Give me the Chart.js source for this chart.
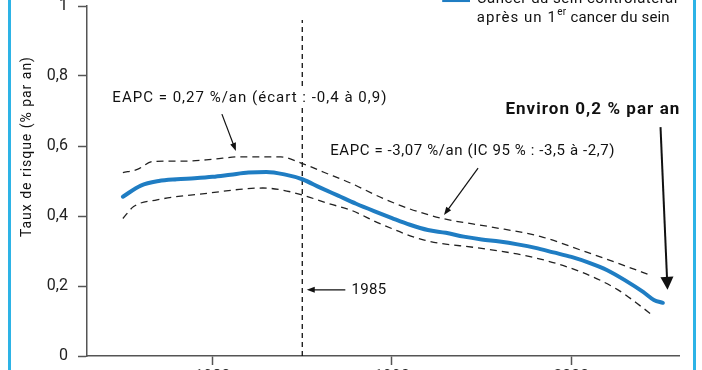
<!DOCTYPE html>
<html><head><meta charset="utf-8">
<script src="https://cdn.jsdelivr.net/npm/chart.js@4.4.1/dist/chart.umd.min.js"></script>
<style>
html,body{margin:0;padding:0;background:#fff;overflow:hidden}
#wrap{position:relative;width:702px;height:370px}
#frame{position:absolute;left:8px;top:0;width:682px;height:370px;border-left:3px solid #2db3e6;border-right:3px solid #2db3e6;pointer-events:none}
canvas{position:absolute;left:0;top:0}
</style></head><body>
<div id="wrap"><canvas id="c" width="702" height="370"></canvas><div id="frame"></div></div>
<script>
// ---- data ----
const riskYears  = [1975.0,1976.0,1977.0,1978.0,1979.0,1980.0,1981.0,1982.0,1983.0,1984.0,1985.0,1986.0,1987.0,1988.0,1989.0,1990.0,1991.0,1992.0,1993.0,1994.0,1995.0,1996.0,1997.0,1998.0,1999.0,2000.0,2001.0,2002.0,2003.0,2004.0,2004.6,2005.1];
const riskValues = [0.455,0.487,0.500,0.505,0.508,0.512,0.518,0.524,0.526,0.519,0.505,0.481,0.458,0.435,0.414,0.394,0.375,0.360,0.352,0.341,0.333,0.327,0.319,0.309,0.296,0.283,0.266,0.245,0.216,0.183,0.160,0.152];
const upperYears  = [1975.0,1975.8,1976.7,1978.5,1980.0,1981.5,1983.8,1984.9,1986.2,1987.7,1989.3,1991.0,1992.9,1995.5,1998.3,2000.5,2002.6,2004.5];
const upperValues = [0.524,0.533,0.556,0.557,0.562,0.569,0.569,0.552,0.525,0.494,0.455,0.420,0.392,0.369,0.341,0.303,0.265,0.229];
const lowerYears  = [1975.0,1975.6,1976.9,1979.7,1982.8,1983.9,1985.0,1986.5,1987.7,1989.3,1991.8,1994.9,1997.7,2000.5,2002.6,2003.9,2004.5];
const lowerValues = [0.393,0.427,0.446,0.465,0.480,0.474,0.460,0.435,0.417,0.379,0.331,0.308,0.284,0.241,0.189,0.141,0.117];
const markerYears  = [1985, 1985];
const markerValues = [0, 0.96];
const xTicks = [1980, 1990, 2000];
const xTickLabels = ['1980', '1990', '2000'];
const yTicks = [0, 0.2, 0.4, 0.6, 0.8, 1];
const yTickLabels = ['0', '0,2', '0,4', '0,6', '0,8', '1'];
const yTitle = 'Taux de risque (% par an)';
const legendLine1 = 'Cancer du sein controlatéral';
const legendLine2 = ['après un 1', 'er', ' cancer du sein'];
const note1 = 'EAPC = 0,27 %/an (écart : -0,4 à 0,9)';
const note2 = 'EAPC = -3,07 %/an (IC 95 % : -3,5 à -2,7)';
const note3 = 'Environ 0,2 % par an';
const note4 = '1985';

const FONT = 'Roboto, "DejaVu Sans", sans-serif';
const BLUE = '#1f7dc3';
const toPts = (xs, ys) => xs.map((x, i) => ({x, y: ys[i]}));

function arrow(ctx, x1, y1, x2, y2, len, wid) {
  const a = Math.atan2(y2 - y1, x2 - x1);
  ctx.beginPath(); ctx.moveTo(x1, y1);
  ctx.lineTo(x2 - Math.cos(a) * len * 0.8, y2 - Math.sin(a) * len * 0.8); ctx.stroke();
  ctx.beginPath(); ctx.moveTo(x2, y2);
  ctx.lineTo(x2 - Math.cos(a) * len + Math.sin(a) * wid, y2 - Math.sin(a) * len - Math.cos(a) * wid);
  ctx.lineTo(x2 - Math.cos(a) * len - Math.sin(a) * wid, y2 - Math.sin(a) * len + Math.cos(a) * wid);
  ctx.closePath(); ctx.fill();
}
// draw text spread to a given width via letter spacing (the original uses a wider typeface)
function fitText(ctx, text, x, y, width, bg) {
  ctx.letterSpacing = '0px';
  const w0 = ctx.measureText(text).width;
  const ls = Math.max(0, (width - w0) / text.length);
  if (bg) {
    const fs = ctx.fillStyle;
    ctx.fillStyle = '#fff';
    const left = ctx.textAlign === 'center' ? x - width / 2 : x;
    ctx.fillRect(left - 3, y - 9, width + 6, 18);
    ctx.fillStyle = fs;
  }
  ctx.letterSpacing = ls.toFixed(2) + 'px';
  let dx = 0;
  if (ctx.textAlign === 'center') dx = ls / 2;
  ctx.fillText(text, x + dx, y);
  const w = ctx.measureText(text).width;
  ctx.letterSpacing = '0px';
  return w;
}

const annot = {
  id: 'annot',
  afterDraw(chart) {
    const {ctx, scales: {x, y}} = chart;
    const X = v => x.getPixelForValue(v), Y = v => y.getPixelForValue(v);
    ctx.save();
    ctx.fillStyle = '#111'; ctx.strokeStyle = '#111';
    ctx.textBaseline = 'middle';
    // y title
    ctx.save();
    ctx.translate(x.left - 60, Y(0.597));
    ctx.rotate(-Math.PI / 2);
    ctx.textAlign = 'center';
    ctx.font = '14px ' + FONT;
    fitText(ctx, yTitle, 0, 0, 181);
    ctx.restore();
    // notes
    ctx.font = '15px ' + FONT;
    ctx.textAlign = 'center';
    fitText(ctx, note1, X(1982.05), Y(0.737), 275, true);
    fitText(ctx, note2, X(1994.48), Y(0.584), 285);
    ctx.textAlign = 'left';
    fitText(ctx, note4, X(1987.74), Y(0.189), 35);
    ctx.font = 'bold 17px ' + FONT;
    ctx.textAlign = 'center';
    fitText(ctx, note3, X(2001.17), Y(0.703), 175);
    // arrows
    ctx.lineWidth = 1.2;
    arrow(ctx, X(1980.52), Y(0.691), X(1981.3), Y(0.586), 8, 3);
    arrow(ctx, X(1994.8), Y(0.537), X(1992.9), Y(0.403), 8, 3);
    arrow(ctx, X(1987.4), Y(0.189), X(1985.25), Y(0.189), 8, 3);
    ctx.lineWidth = 2;
    arrow(ctx, X(2004.97), Y(0.654), X(2005.36), Y(0.189), 13, 6.5);
    // legend
    ctx.strokeStyle = BLUE; ctx.lineWidth = 4;
    ctx.beginPath(); ctx.moveTo(X(1992.8), Y(1.017)); ctx.lineTo(X(1994.35), Y(1.017)); ctx.stroke();
    ctx.textAlign = 'left';
    ctx.font = '15px ' + FONT;
    const lx = X(1994.73);
    fitText(ctx, legendLine1, lx, Y(1.020), 201);
    const ly = Y(0.966);
    let w = fitText(ctx, legendLine2[0], lx, ly, 80);
    ctx.font = '10px ' + FONT;
    ctx.fillText(legendLine2[1], lx + w + 0.5, ly - 5);
    w += ctx.measureText(legendLine2[1]).width + 1;
    ctx.font = '15px ' + FONT;
    fitText(ctx, legendLine2[2], lx + w, ly, 193 - w);
    ctx.restore();
  }
};

new Chart(document.getElementById('c'), {
  type: 'line',
  data: { datasets: [
    {label: 'risk', data: toPts(riskYears, riskValues), borderColor: BLUE, borderWidth: 4, pointRadius: 0, tension: 0.4, cubicInterpolationMode: 'monotone', fill: false, borderCapStyle: 'round'},
    {label: 'upper', data: toPts(upperYears, upperValues), borderColor: '#222', borderWidth: 1.3, borderDash: [7, 5], pointRadius: 0, tension: 0.4, cubicInterpolationMode: 'monotone', fill: false},
    {label: 'lower', data: toPts(lowerYears, lowerValues), borderColor: '#222', borderWidth: 1.3, borderDash: [7, 5], pointRadius: 0, tension: 0.4, cubicInterpolationMode: 'monotone', fill: false},
    {label: '1985', data: toPts(markerYears, markerValues), borderColor: '#111', borderWidth: 1.3, borderDash: [5, 4], pointRadius: 0, tension: 0, fill: false}
  ]},
  options: {
    responsive: false, animation: false, devicePixelRatio: 1,
    layout: {padding: {top: 6, right: 23, left: 0, bottom: 0}},
    plugins: {legend: {display: false}, tooltip: {enabled: false}},
    scales: {
      x: {
        type: 'linear', min: 1973, max: 2006,
        afterBuildTicks: s => { s.ticks = xTicks.map(v => ({value: v})); },
        ticks: {callback: (v, i) => xTickLabels[i], autoSkip: false, maxRotation: 0, padding: 2, color: '#222', font: {size: 16, family: FONT}},
        grid: {drawOnChartArea: false, drawTicks: true, tickLength: 9, tickColor: '#555', tickWidth: 1.5},
        border: {color: '#555', width: 1.5},
        afterFit: s => { s.height = 14; s.paddingLeft = 0; s.paddingRight = 0; }
      },
      y: {
        min: 0, max: 1,
        afterBuildTicks: s => { s.ticks = yTicks.map(v => ({value: v})); },
        ticks: {callback: (v, i) => yTickLabels[i], padding: 10, color: '#222', font: {size: 16, family: FONT}},
        grid: {drawOnChartArea: false, drawTicks: true, tickLength: 9, tickColor: '#555', tickWidth: 1.5},
        border: {color: '#555', width: 1.5},
        afterFit: s => { s.width = 87; s.paddingTop = 0; s.paddingBottom = 0; }
      }
    }
  },
  plugins: [annot]
});
</script>
</body></html>
